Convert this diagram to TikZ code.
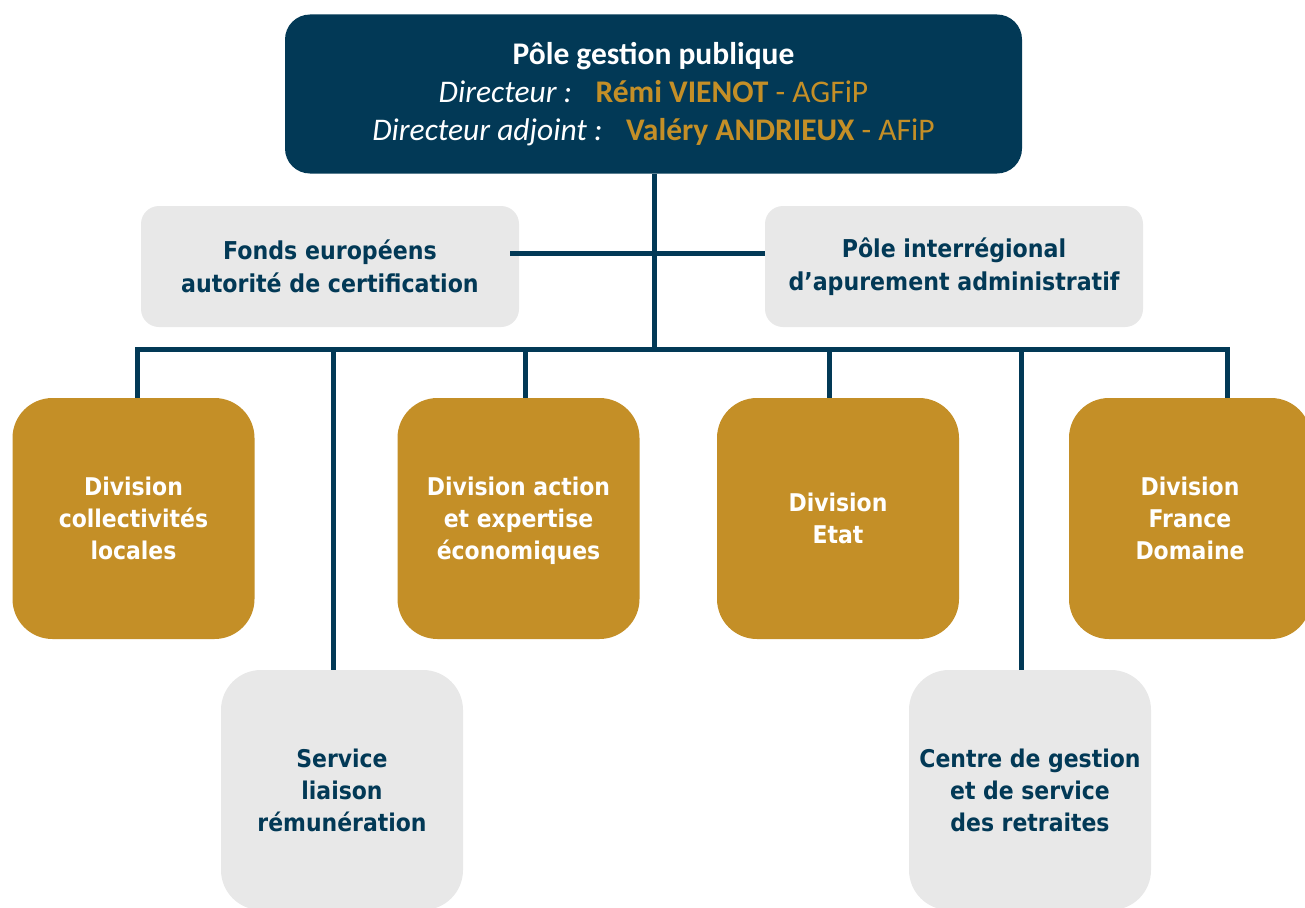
\documentclass[tikz,border=0pt]{standalone}
\usepackage{fontspec}
\setmainfont{Carlito}
\newfontfamily\tah{DejaVu Sans Condensed}
\definecolor{navy}{RGB}{2,57,86}
\definecolor{gold}{RGB}{196,143,39}
\definecolor{lgray}{RGB}{232,232,232}
\begin{document}
\begin{tikzpicture}[x=1pt,y=-1pt,
  base/.style={rounded corners=#1, inner sep=0pt, align=center},
  topbox/.style={base=25pt, fill=navy, text=white, minimum width=737pt, minimum height=159pt, font=\fontsize{31.5}{38}\selectfont},
  midbox/.style={base=18pt, fill=lgray, text=navy, minimum width=378pt, minimum height=121pt, font=\tah\bfseries\fontsize{24.6}{33}\selectfont},
  goldbox/.style={base=40pt, fill=gold, text=white, minimum width=242pt, minimum height=241pt, font=\tah\bfseries\fontsize{24.4}{32}\selectfont},
  graybox/.style={base=40pt, fill=lgray, text=navy, minimum width=242pt, minimum height=240pt, font=\tah\bfseries\fontsize{24.4}{32}\selectfont},
  link/.style={draw=navy, line width=5pt}
]
\clip (0,0) rectangle (1305,907);
\fill[white] (0,0) rectangle (1305,907);

\node[topbox] (top) at (653.5,94) {\textbf{Pôle gestion publique}\\
  \textit{Directeur :}\;\, \textcolor{gold}{\textbf{Rémi VIENOT} - AGFiP}\\
  \textit{Directeur adjoint :}\;\, \textcolor{gold}{\textbf{Valéry ANDRIEUX} - AFiP}};

\node[midbox] (fonds) at (330,266.5) {Fonds européens\\autorité de certification};
\node[midbox] (pia) at (954,266.5) {Pôle interrégional\\d’apurement administratif};

\node[goldbox] (dcl) at (133.5,518.5) {Division\\collectivités\\locales};
\node[goldbox] (dae) at (518.5,518.5) {Division action\\et expertise\\\smash{économiques}};
\node[goldbox] (de) at (838,518.5) {Division\\Etat};
\node[goldbox] (dfd) at (1190,518.5) {Division\\France\\Domaine};

\node[graybox] (slr) at (342,790) {Service\\liaison\\rémunération};
\node[graybox] (cgs) at (1030,790) {Centre de gestion\\et de service\\des retraites};

% connectors
\coordinate (hub) at (654,349);
\coordinate (busL) at (135,349);
\coordinate (busR) at (1230,349);
\coordinate (fl) at (510,253);
\coordinate (d1) at (137,349);
\coordinate (d2) at (333,349);
\coordinate (d3) at (525,349);
\coordinate (d4) at (829,349);
\coordinate (d5) at (1021,349);
\coordinate (d6) at (1227,349);

\draw[link] (top.south -| hub) -- (hub);
\draw[link] (fl) -- (pia.west |- fl);
\draw[link] (busL) -- (busR);
\draw[link] (d1) -- (d1 |- dcl.north);
\draw[link] (d2) -- (d2 |- slr.north);
\draw[link] (d3) -- (d3 |- dae.north);
\draw[link] (d4) -- (d4 |- de.north);
\draw[link] (d5) -- (d5 |- cgs.north);
\draw[link] (d6) -- (d6 |- dfd.north);
\end{tikzpicture}
\end{document}
